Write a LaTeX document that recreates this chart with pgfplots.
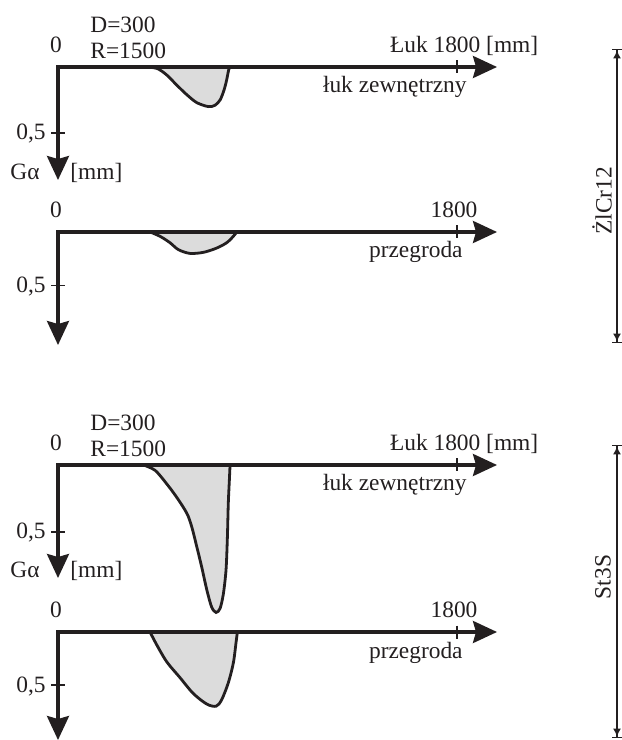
\documentclass[border=0pt]{standalone}
\usepackage{fontspec}
\setmainfont{Liberation Serif}
\usepackage{pgfplots}
\pgfplotsset{compat=1.18}
\usetikzlibrary{arrows.meta}
\definecolor{ink}{RGB}{35,31,32}
\definecolor{flaw}{RGB}{220,220,220}

\tikzset{
  axisline/.style={ink, line width=1.6pt, line join=miter,
    {Stealth[length=12pt,width=11pt,inset=1.5pt]}-{Stealth[length=12pt,width=11pt,inset=1.5pt]}},
  tickline/.style={ink, line width=0.7pt},
}
\pgfplotsset{
  panel/.style={
    scale only axis, width=219.5pt,
    xmin=0, xmax=1980, ymin=0, y dir=reverse,
    axis lines=none, clip=false,
    anchor=origin,
  },
  flaw/.style={ink, line width=1.4pt, fill=flaw, smooth, tension=0.5},
}
% axes drawn from the arrow tip on x, through the origin, to the arrow tip on y
\newcommand\frameaxes[1]{%
  \draw[axisline] (axis cs:1980,0) -- (axis cs:0,0) -- (axis cs:0,#1);
  \draw[tickline] (axis cs:1800,0) ++(0,3.25pt) -- ++(0,-6.5pt);
  \draw[tickline] (axis cs:0,0.5) ++(-3.5pt,0) -- ++(7pt,0);
}

\begin{document}
\begin{tikzpicture}[x=0.5pt, y=0.5pt,
  every node/.style={inner sep=0pt, text=ink, font=\fontsize{11.7pt}{14pt}\selectfont}]
\useasboundingbox (0,0) rectangle (622,740);

% --- ZlCr12, outer arc
\begin{axis}[panel, at={(29pt,336.5pt)}, ymax=0.856, height=56.5pt]
\addplot[flaw] coordinates {(385,0) (445,0.01) (490,0.06) (535,0.136) (581,0.21)
  (626,0.27) (678,0.30) (708,0.29) (731,0.25) (749,0.174) (761,0.096) (770,0.02) (776,0)};
\frameaxes{0.856}
\end{axis}
\node[anchor=base] at (56,687) {0};
\node[anchor=base west] at (90,707) {D=300};
\node[anchor=base west] at (90,681) {R=1500};
\node[anchor=base] at (457,687) {\llap{Łuk }1800\rlap{ [mm]}};
\node[anchor=base east] at (467,647) {łuk zewnętrzny};
\node[anchor=base east] at (46,600) {0,5};
\node[anchor=base east] at (40,560) {Gα};
\node[anchor=base west] at (70,560) {[mm]};

% --- ZlCr12, partition
\begin{axis}[panel, at={(29pt,254pt)}, ymax=1.056, height=56.5pt]
\addplot[flaw] coordinates {(415,0) (460,0.04) (505,0.10) (543,0.165) (595,0.20)
  (656,0.19) (716,0.15) (761,0.10) (791,0.04) (806,0)};
\frameaxes{1.056}
\end{axis}
\node[anchor=base] at (56,522) {0};
\node[anchor=base] at (454,522) {1800};
\node[anchor=base east] at (463,482) {przegroda};
\node[anchor=base east] at (46,447) {0,5};

% --- St3S, outer arc
\begin{axis}[panel, at={(29pt,137.5pt)}, ymax=0.843, height=56.5pt]
\addplot[flaw] coordinates {(385,0) (438,0.04) (490,0.14) (535,0.24) (581,0.36)
  (603,0.46) (626,0.61) (648,0.76) (671,0.93) (693,1.06) (713,1.10) (731,1.07)
  (746,0.96) (758,0.78) (764,0.54) (768,0.29) (773,0.11) (776,0)};
\frameaxes{0.843}
\end{axis}
\node[anchor=base] at (56,289) {0};
\node[anchor=base west] at (90,309) {D=300};
\node[anchor=base west] at (90,283) {R=1500};
\node[anchor=base] at (457,289) {\llap{Łuk }1800\rlap{ [mm]}};
\node[anchor=base east] at (467,249) {łuk zewnętrzny};
\node[anchor=base east] at (46,201) {0,5};
\node[anchor=base east] at (40,162) {Gα};
\node[anchor=base west] at (70,162) {[mm]};

% --- St3S, partition
\begin{axis}[panel, at={(29pt,54pt)}, ymax=1.019, height=54pt]
\addplot[flaw] coordinates {(415,0) (445,0.12) (490,0.28) (550,0.43) (610,0.58)
  (671,0.68) (713,0.70) (738,0.64) (768,0.48) (791,0.29) (803,0.10) (809,0)};
\frameaxes{1.019}
\end{axis}
\node[anchor=base] at (56,122) {0};
\node[anchor=base] at (454,122) {1800};
\node[anchor=base east] at (463,82) {przegroda};
\node[anchor=base east] at (46,47) {0,5};

% --- material brackets
\draw[ink, line width=0.7pt,
  {Bar[width=5pt]Latex[length=4pt,width=4pt]}-{Latex[length=4pt,width=4pt]Bar[width=5pt]}]
  (617,691) -- (617,397);
\node[rotate=90] at (602,539) {ŻlCr12};
\draw[ink, line width=0.7pt,
  {Bar[width=5pt]Latex[length=4pt,width=4pt]}-{Latex[length=4pt,width=4pt]Bar[width=5pt]}]
  (617,295) -- (617,2);
\node[rotate=90] at (603,163) {St3S};
\end{tikzpicture}
\end{document}
